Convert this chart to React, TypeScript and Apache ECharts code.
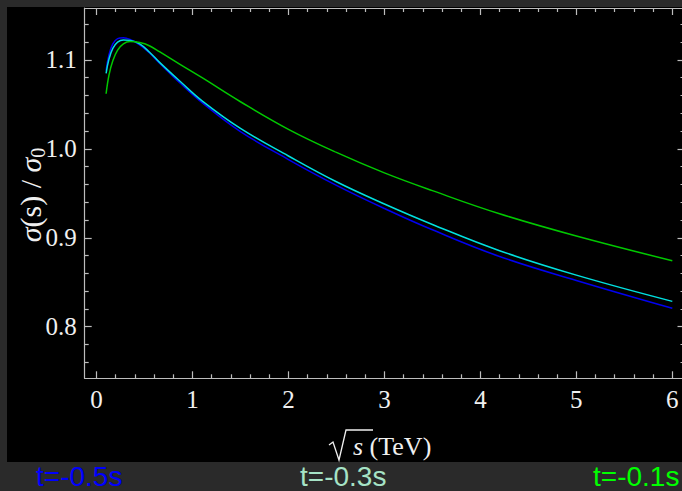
import React, { useEffect, useRef } from "react";
import * as echarts from "echarts";

// sqrt(s) in TeV
const xs = [0.1, 0.13, 0.17, 0.22, 0.28, 0.35, 0.45, 0.55, 0.66, 0.87, 1.1, 1.5, 2.0, 2.5, 3.0, 3.5, 4.2, 5.0, 6.0];
// sigma(s)/sigma0 for each curve
const blueVals = [1.088, 1.106, 1.118, 1.124, 1.125, 1.123, 1.117, 1.108, 1.096, 1.074, 1.052, 1.0195, 0.988, 0.959, 0.933, 0.909, 0.879, 0.852, 0.8207];
const cyanVals = [1.085, 1.101, 1.113, 1.12, 1.1225, 1.122, 1.118, 1.109, 1.097, 1.076, 1.054, 1.023, 0.992, 0.963, 0.938, 0.915, 0.8855, 0.858, 0.8285];
const greenVals = [1.062, 1.083, 1.099, 1.111, 1.118, 1.1206, 1.1195, 1.116, 1.109, 1.095, 1.08, 1.053, 1.022, 0.996, 0.973, 0.953, 0.927, 0.902, 0.8742];

const xMajor = [0, 1, 2, 3, 4, 5, 6];
const yMajor = [0.8, 0.9, 1.0, 1.1];
const legendLabels = ["t=-0.5s", "t=-0.3s", "t=-0.1s"];
const legendColors = ["#0000ff", "#a6e3c6", "#00ff00"];

const X_MIN = -0.123;
const X_MAX = 6.127;
const Y_MIN = 0.742;
const Y_MAX = 1.1584;

function minorTicks(lo: number, hi: number, step: number, majors: number[]) {
  const out: number[] = [];
  const n = Math.round((hi - lo) / step);
  for (let i = 0; i <= n; i++) {
    const v = Math.round((lo + i * step) * 1000) / 1000;
    if (!majors.some((m) => Math.abs(m - v) < 1e-6)) out.push(v);
  }
  return out;
}

const xMinor = minorTicks(0, 6, 0.2, xMajor);
const yMinor = minorTicks(0.76, 1.14, 0.02, yMajor);

const AXIS_COLOR = "#bdbdbd";
const LABEL_COLOR = "#f0f0f0";
const SERIF = "Liberation Serif";

function makeAxis(kind: "x" | "y", position: string, values: number[], major: boolean, withLabels: boolean) {
  const base: any = {
    type: "value",
    position,
    min: kind === "x" ? X_MIN : Y_MIN,
    max: kind === "x" ? X_MAX : Y_MAX,
    splitLine: { show: false },
    axisLine: { show: major, onZero: false, lineStyle: { color: AXIS_COLOR, width: 1.2 } },
    axisTick: {
      show: true,
      inside: true,
      length: major ? 7 : 4,
      customValues: values,
      lineStyle: { color: AXIS_COLOR, width: 1.2 },
    },
    axisLabel: withLabels
      ? {
          show: true,
          customValues: values,
          color: LABEL_COLOR,
          fontFamily: SERIF,
          fontSize: 25,
          margin: kind === "x" ? 9 : 8,
          formatter: (v: number) => (kind === "x" ? String(v) : v.toFixed(1)),
        }
      : { show: false },
  };
  return base;
}

export default function App() {
  const ref = useRef<HTMLDivElement>(null);
  useEffect(() => {
    const chart = echarts.init(ref.current!, null, { renderer: "svg", width: 690, height: 491 });
    const mk = (vals: number[]) => xs.map((x, i) => [x, vals[i]]);
    const seriesDefs = [
      { name: legendLabels[0], color: "#0000f0", vals: blueVals },
      { name: legendLabels[1], color: "#00e0e0", vals: cyanVals },
      { name: legendLabels[2], color: "#00c800", vals: greenVals },
    ];
    const option: any = {
      animation: false,
      backgroundColor: "transparent",
      grid: { left: 84.7, top: 8, width: 599.8, height: 370.3, containLabel: false },
      xAxis: [
        makeAxis("x", "bottom", xMajor, true, true),
        makeAxis("x", "bottom", xMinor, false, false),
        makeAxis("x", "top", xMajor, true, false),
        makeAxis("x", "top", xMinor, false, false),
      ],
      yAxis: [
        makeAxis("y", "left", yMajor, true, true),
        makeAxis("y", "left", yMinor, false, false),
        makeAxis("y", "right", yMajor, true, false),
        makeAxis("y", "right", yMinor, false, false),
      ],
      series: seriesDefs.map((s) => ({
        type: "line",
        name: s.name,
        data: mk(s.vals),
        xAxisIndex: 0,
        yAxisIndex: 0,
        smooth: 0.4,
        showSymbol: false,
        symbol: "none",
        lineStyle: { color: s.color, width: 1.5 },
      })),
      graphic: [
        {
          type: "group",
          x: 30,
          y: 195,
          rotation: Math.PI / 2,
          children: [
            {
              type: "text",
              x: 0,
              y: 0,
              style: {
                text: "{a|σ}(s) / {a|σ}{sub|0}",
                fill: LABEL_COLOR,
                fontFamily: SERIF,
                fontSize: 30,
                align: "center",
                verticalAlign: "middle",
                rich: {
                  a: { fontFamily: SERIF, fontSize: 30, fontStyle: "italic", fill: LABEL_COLOR },
                  sub: { fontFamily: SERIF, fontSize: 20, fill: LABEL_COLOR, padding: [15, 0, 0, 0] },
                },
              },
            },
          ],
        },
        {
          type: "polyline",
          shape: { points: [[329, 445], [333, 442], [339, 460], [346, 430], [373, 430]] },
          style: { stroke: LABEL_COLOR, lineWidth: 1.3, fill: null },
        },
        {
          type: "text",
          x: 353,
          y: 446,
          style: {
            text: "{it|s} (TeV)",
            fill: LABEL_COLOR,
            fontFamily: SERIF,
            fontSize: 26,
            align: "left",
            verticalAlign: "middle",
            rich: { it: { fontFamily: SERIF, fontSize: 26, fontStyle: "italic", fill: LABEL_COLOR } },
          },
        },
        ...legendLabels.map((t, i) => ({
          type: "text",
          x: [36, 300, 593][i],
          y: 476.5,
          style: {
            text: t,
            fill: legendColors[i],
            fontFamily: "Liberation Sans",
            fontSize: 28,
            align: "left",
            verticalAlign: "middle",
          },
        })),
      ],
    };
    chart.setOption(option);
    return () => chart.dispose();
  }, []);
  return (
    <div
      style={{
        position: "fixed",
        left: 0,
        top: 0,
        width: 682,
        height: 491,
        overflow: "hidden",
        background: "#2a2a2a",
      }}
    >
      <div style={{ position: "absolute", left: 7, top: 7, width: 675, height: 455, background: "#000" }} />
      <div ref={ref} style={{ position: "absolute", left: 0, top: 0, width: 690, height: 491 }} />
    </div>
  );
}
